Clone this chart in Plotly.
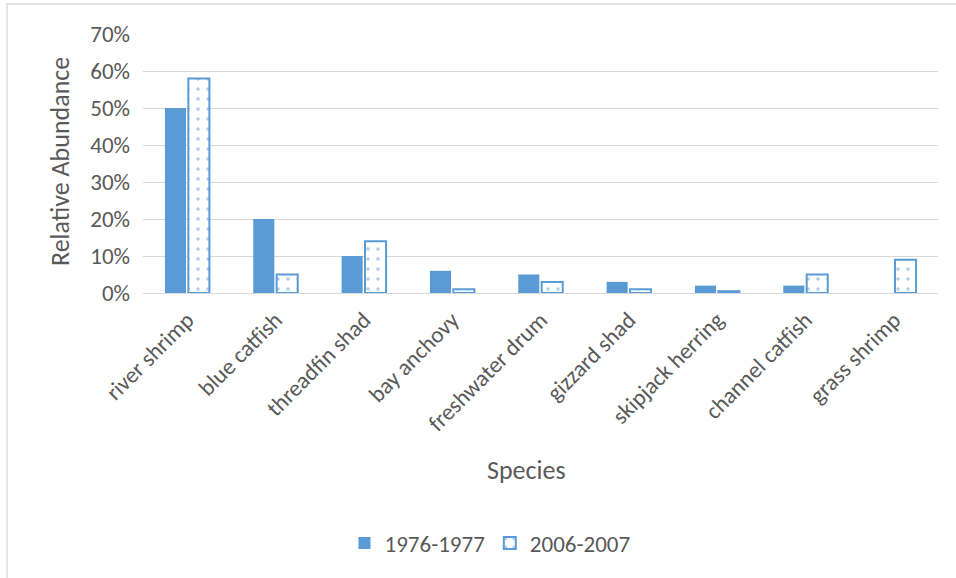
import plotly.graph_objects as go

species = ["river shrimp", "blue catfish", "threadfin shad", "bay anchovy",
           "freshwater drum", "gizzard shad", "skipjack herring",
           "channel catfish", "grass shrimp"]
abund_1976 = [50, 20, 10, 6, 5, 3, 2, 2, 0]
abund_2006 = [58, 5, 14, 1, 3, 1, 0.5, 5, 9]
y_ticks = [0, 10, 20, 30, 40, 50, 60, 70]
y_ticklabels = [f"{v}%" for v in y_ticks]

blue = "#5b9bd5"
txt = "#595959"
font_family = "Carlito, Lato, 'Open Sans', sans-serif"

L, R, T, B = 143, 938, 34, 293
W, H = 956, 578
pw, ph = R - L, B - T

fig = go.Figure()
fig.add_trace(go.Bar(
    name="1976-1977", x=species, y=abund_1976,
    marker=dict(color=blue, line=dict(width=0)),
))
fig.add_trace(go.Bar(
    name="2006-2007", x=species, y=abund_2006,
    marker=dict(color="white", line=dict(color=blue, width=2),
                pattern=dict(shape=".", fgcolor=blue, bgcolor="white",
                             size=10, solidity=0.1)),
))

fig.update_layout(
    width=W, height=H,
    margin=dict(l=L, r=W - R, t=T, b=H - B, autoexpand=False),
    paper_bgcolor="white", plot_bgcolor="white",
    barmode="group", bargap=0.47, bargroupgap=0.1,
    font=dict(family=font_family, color=txt, size=23),
    showlegend=True,
    legend=dict(orientation="h", x=(490 - L) / pw, xanchor="center",
                y=(B - 543) / ph, yanchor="middle",
                font=dict(size=23, color=txt), traceorder="normal",
                itemwidth=30),
    xaxis=dict(
        tickangle=-45, showgrid=False, showline=False, ticks="",
        tickfont=dict(size=23, color=txt), automargin=False,
        ticklabelstandoff=8,
    ),
    yaxis=dict(
        range=[0, 70], tickvals=y_ticks, ticktext=y_ticklabels,
        showgrid=True, gridcolor="#d9d9d9", gridwidth=1.3,
        zeroline=True, zerolinecolor="#d9d9d9", zerolinewidth=1.3,
        tickfont=dict(size=23, color=txt), ticks="", ticklen=0,
        ticklabelstandoff=12, automargin=False,
    ),
    annotations=[
        dict(text="Species", xref="paper", yref="paper",
             x=(526 - L) / pw, y=(B - 470) / ph, xanchor="center", yanchor="middle",
             showarrow=False, font=dict(size=26, color=txt)),
        dict(text="Relative Abundance", xref="paper", yref="paper",
             x=(60 - L) / pw, y=(B - 162) / ph, xanchor="center", yanchor="middle",
             textangle=-90, showarrow=False, font=dict(size=26, color=txt)),
    ],
    shapes=[dict(type="rect", xref="paper", yref="paper",
                 x0=(7 - L) / pw, x1=1.2, y0=-1.5, y1=(B - 4) / ph,
                 line=dict(color="#d9d9d9", width=1.3), fillcolor="rgba(0,0,0,0)",
                 layer="below")],
)

fig.write_html("out.html", config={"displayModeBar": False},
               post_script="document.body.style.margin='0';document.body.style.overflow='hidden';")
